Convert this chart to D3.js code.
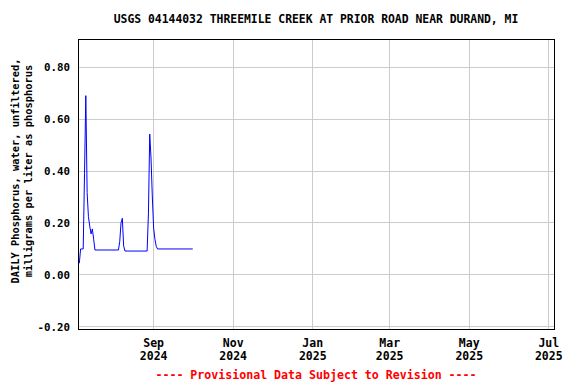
<!DOCTYPE html>
<html>
<head>
<meta charset="utf-8">
<script src="https://cdn.jsdelivr.net/npm/d3@7"></script>
<style>
    body { margin: 0; background: #fff; }
    text { font-family: "DejaVu Sans Mono", monospace; font-weight: bold; }
</style>
</head>
<body>
<div id="chart"></div>
<script>
    "use strict";
    var chartTitle = "USGS 04144032 THREEMILE CREEK AT PRIOR ROAD NEAR DURAND, MI";
    var yLabelLines = ["DAILY Phosphorus, water, unfiltered,", "milligrams per liter as phosphorus"];
    var footerText = "---- Provisional Data Subject to Revision ----";

    // daily values (only change points kept, flat stretches are joined by the line)
    var sampleDates = [
        "2024-07-06", "2024-07-07", "2024-07-09", "2024-07-10", "2024-07-11", "2024-07-12",
        "2024-07-13", "2024-07-14", "2024-07-15", "2024-07-16", "2024-07-17", "2024-07-18",
        "2024-08-05", "2024-08-06", "2024-08-07", "2024-08-08", "2024-08-09", "2024-08-10",
        "2024-08-27", "2024-08-28", "2024-08-29", "2024-08-30", "2024-08-31", "2024-09-01",
        "2024-09-02", "2024-09-03", "2024-09-04", "2024-10-01"
    ];
    var phosphorusValues = [
        0.045, 0.10, 0.10, 0.39, 0.69, 0.317,
        0.224, 0.188, 0.158, 0.177, 0.138, 0.096,
        0.096, 0.128, 0.201, 0.218, 0.112, 0.092,
        0.092, 0.235, 0.542, 0.45, 0.30, 0.18,
        0.137, 0.11, 0.10, 0.10
    ];
    var yTickValues = [-0.2, 0, 0.2, 0.4, 0.6, 0.8];
    var xTickDates = ["2024-09-01", "2024-11-01", "2025-01-01", "2025-03-01", "2025-05-01", "2025-07-01"];
    var xTickMonths = ["Sep", "Nov", "Jan", "Mar", "May", "Jul"];
    var xTickYears = ["2024", "2024", "2025", "2025", "2025", "2025"];

    var width = 576, height = 384;
    var box = { left: 78, top: 39, right: 554, bottom: 329 };
    var parseDate = d3.utcParse("%Y-%m-%d");

    var svg = d3.select("#chart").append("svg")
        .attr("width", width)
        .attr("height", height);

    var x = d3.scaleUtc()
        .domain([parseDate("2024-07-05"), parseDate("2025-07-05")])
        .range([box.left, box.right]);
    var y = d3.scaleLinear()
        .domain([-0.208, 0.908])
        .range([box.bottom, box.top]);

    var grid = svg.append("g").attr("stroke", "#cccccc").attr("stroke-width", 1).attr("shape-rendering", "crispEdges");
    grid.selectAll("line.h")
        .data(yTickValues)
        .enter()
        .append("line")
        .attr("x1", box.left).attr("x2", box.right)
        .attr("y1", function(d) { return y(d); })
        .attr("y2", function(d) { return y(d); });
    grid.selectAll("line.v")
        .data(xTickDates)
        .enter()
        .append("line")
        .attr("y1", box.top).attr("y2", box.bottom)
        .attr("x1", function(d) { return x(parseDate(d)); })
        .attr("x2", function(d) { return x(parseDate(d)); });

    var points = sampleDates.map(function(d, i) {
        return { date: parseDate(d), value: phosphorusValues[i] };
    });
    var line = d3.line()
        .x(function(d) { return x(d.date); })
        .y(function(d) { return y(d.value); });
    svg.append("path")
        .datum(points)
        .attr("d", line)
        .attr("fill", "none")
        .attr("stroke", "#0000ff")
        .attr("stroke-width", 1);

    svg.append("rect")
        .attr("x", box.left + 0.5).attr("y", box.top + 0.5)
        .attr("width", box.right - box.left).attr("height", box.bottom - box.top)
        .attr("fill", "none")
        .attr("stroke", "#000")
        .attr("stroke-width", 1);

    svg.append("g")
        .selectAll("text")
        .data(yTickValues)
        .enter()
        .append("text")
        .attr("x", 70)
        .attr("y", function(d) { return y(d) + 4; })
        .attr("text-anchor", "end")
        .attr("font-size", "10.8px")
        .text(function(d) { return d3.format(".2f")(d).replace("−", "-"); });

    var xLabels = svg.append("g")
        .selectAll("g")
        .data(xTickDates)
        .enter()
        .append("g")
        .attr("transform", function(d) { return "translate(" + x(parseDate(d)) + ",0)"; });
    xLabels.append("text")
        .attr("y", 347)
        .attr("text-anchor", "middle")
        .attr("font-size", "11.5px")
        .text(function(d, i) { return xTickMonths[i]; });
    xLabels.append("text")
        .attr("y", 360)
        .attr("text-anchor", "middle")
        .attr("font-size", "11.5px")
        .text(function(d, i) { return xTickYears[i]; });

    svg.append("text")
        .attr("x", 316).attr("y", 23)
        .attr("text-anchor", "middle")
        .attr("font-size", "11.4px")
        .text(chartTitle);

    svg.append("g")
        .attr("transform", "translate(0,171) rotate(-90)")
        .selectAll("text")
        .data(yLabelLines)
        .enter()
        .append("text")
        .attr("x", 0)
        .attr("y", function(d, i) { return 19 + i * 13; })
        .attr("text-anchor", "middle")
        .attr("font-size", "10.4px")
        .text(function(d) { return d; });

    svg.append("text")
        .attr("x", 316).attr("y", 379)
        .attr("text-anchor", "middle")
        .attr("font-size", "11.6px")
        .attr("fill", "#ff0000")
        .text(footerText);
</script>
</body>
</html>
